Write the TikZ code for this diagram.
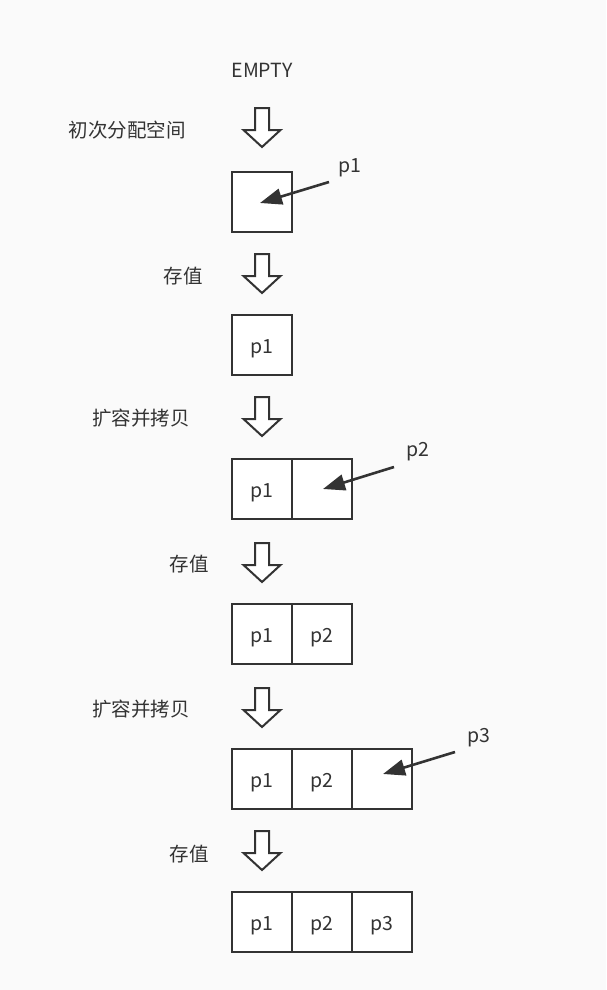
\documentclass[tikz,border=0pt]{standalone}
\usepackage{fontspec}
\setmainfont{Noto Sans CJK SC}
\usetikzlibrary{arrows.meta}
\definecolor{bg}{HTML}{FAFAFA}
\definecolor{ink}{HTML}{333333}
\tikzset{
  cell/.style={draw=ink, line width=2.6pt, fill=white, minimum width=60pt, minimum height=60pt, inner sep=0pt, outer sep=0pt, text=ink, font=\fontsize{19.5}{20}\selectfont, text height=17pt, text depth=0pt},
  lbl/.style={text=ink, font=\fontsize{19.5}{20}\selectfont, inner sep=0pt},
  ptr/.style={draw=ink, line width=2.6pt, -{Triangle[length=22pt,width=16pt]}},
  blockarrow/.style={draw=ink, line width=2pt, fill=white, line join=miter},
}
\newcommand{\downarrowshape}[2]{% x, top y
  \draw[blockarrow] (#1-7,#2) -- (#1+7,#2) -- (#1+7,#2+22) -- (#1+18.5,#2+22) -- (#1,#2+39) -- (#1-18.5,#2+22) -- (#1-7,#2+22) -- cycle;
}
\begin{document}
\begin{tikzpicture}[x=1pt,y=-1pt]
\fill[bg] (0,0) rectangle (606,990);
\useasboundingbox (0,0) rectangle (606,990);

\node[lbl] (empty) at (262,70) {EMPTY};

% step 1
\node[lbl] (t1) at (127,130) {初次分配空间};
\downarrowshape{262}{108}
\node[cell] (a1) at (262,202) {};
\node[lbl] (lp1) at (350,168) {p1};
\coordinate (s1) at (329,182);
\coordinate (e1) at (260,203);
\draw[ptr] (s1) -- (e1);

% step 2
\node[lbl] (t2) at (183,276) {存值};
\downarrowshape{262}{254}
\node[cell] (b1) at (262,345) {p1};

% step 3
\node[lbl] (t3) at (141,418) {扩容并拷贝};
\downarrowshape{262}{397}
\node[cell] (c1) at (262,489) {p1};
\node[cell] (c2) at (322,489) {};
\node[lbl] (lp2) at (418,452) {p2};
\coordinate (s2) at (394,467);
\coordinate (e2) at (323,489);
\draw[ptr] (s2) -- (e2);

% step 4
\node[lbl] (t4) at (189,564) {存值};
\downarrowshape{262}{543}
\node[cell] (d1) at (262,634) {p1};
\node[cell] (d2) at (322,634) {p2};

% step 5
\node[lbl] (t5) at (141,709) {扩容并拷贝};
\downarrowshape{262}{688}
\node[cell] (f1) at (262,779) {p1};
\node[cell] (f2) at (322,779) {p2};
\node[cell] (f3) at (382,779) {};
\node[lbl] (lp3) at (479,738) {p3};
\coordinate (s3) at (455,752);
\coordinate (e3) at (383,774);
\draw[ptr] (s3) -- (e3);

% step 6
\node[lbl] (t6) at (189,854) {存值};
\downarrowshape{262}{831}
\node[cell] (g1) at (262,922) {p1};
\node[cell] (g2) at (322,922) {p2};
\node[cell] (g3) at (382,922) {p3};
\end{tikzpicture}
\end{document}
